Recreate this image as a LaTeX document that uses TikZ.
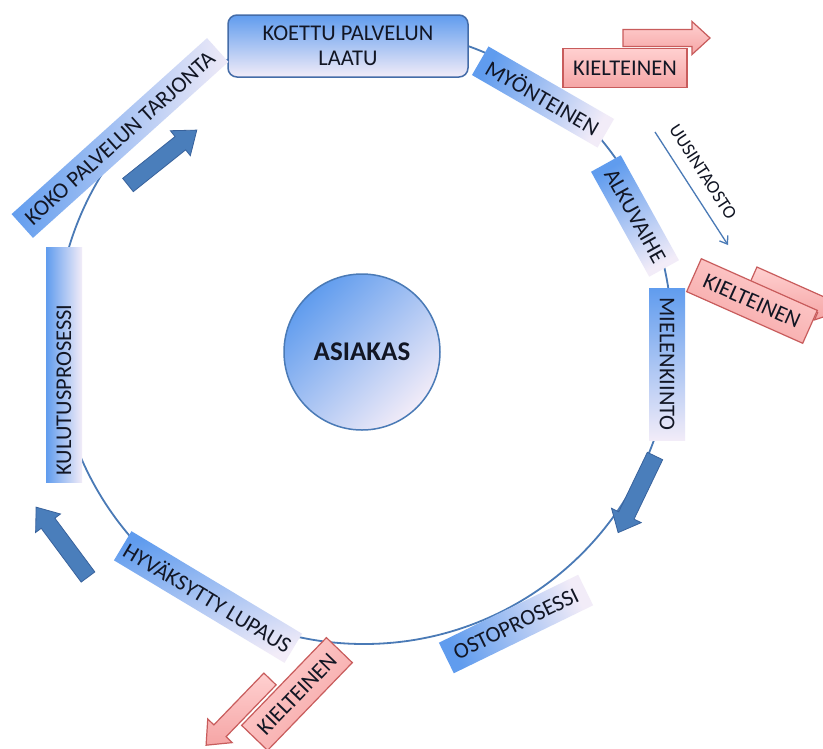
\documentclass[tikz,border=0pt]{standalone}
\usepackage{fontspec}
\setmainfont{Carlito}
\usetikzlibrary{arrows.meta}
\definecolor{ringblue}{RGB}{74,122,182}
\definecolor{boxblue}{RGB}{96,156,238}
\definecolor{boxpale}{RGB}{242,236,248}
\definecolor{koborder}{RGB}{68,108,168}
\definecolor{negtop}{RGB}{255,208,208}
\definecolor{negbot}{RGB}{245,165,165}
\definecolor{negborder}{RGB}{200,92,92}
\definecolor{arrowblue}{RGB}{74,126,187}
\definecolor{arrowborder}{RGB}{56,98,156}
\definecolor{txt}{RGB}{18,22,36}
\newcommand{\blockarrow}[7]{%
  \begin{scope}[shift={#2},rotate=#3]
    \path[#1] (0,{#5/2}) -- ({#4-#7},{#5/2}) -- ({#4-#7},{#6/2}) -- (#4,0)
      -- ({#4-#7},{-#6/2}) -- ({#4-#7},{-#5/2}) -- (0,{-#5/2}) -- cycle;
  \end{scope}}
\begin{document}
\begin{tikzpicture}[x=1pt,y=-1pt,
  ring/.style={draw=ringblue,line width=1.8pt},
  lbl/.style={shade,top color=boxblue,bottom color=boxpale,inner sep=0pt,
    text=txt,font=\fontsize{22.5}{24}\selectfont},
  koettubox/.style={rounded corners=9pt,draw=koborder,line width=1.5pt,
    top color=boxblue,bottom color=boxpale,inner sep=0pt,align=center,
    text=txt,font=\fontsize{22.5}{25}\selectfont},
  neg/.style={draw=negborder,line width=1.2pt,top color=negtop,bottom color=negbot,
    inner sep=0pt,text=txt,font=\fontsize{22.5}{24}\selectfont},
  negarrow/.style={draw=negborder,line width=1.2pt,top color=negtop,bottom color=negbot},
  bluearrow/.style={fill=arrowblue,draw=arrowborder,line width=0.8pt},
  thinarrow/.style={draw=ringblue,line width=1.3pt,-{Straight Barb[length=7pt,width=10pt]}}
]
\fill[white] (0,0) rectangle (823,748);
\clip (0,0) rectangle (823,748);

% ring
\coordinate (ringc) at (364,336);
\draw[ring] (ringc) circle[radius=308pt];

% centre
\node[circle,minimum size=156pt,draw=ringblue,line width=1.5pt,
  top color=boxblue,bottom color=boxpale,shading angle=45,text=txt,
  font=\bfseries\fontsize{27}{29}\selectfont] (asiakas) at (362,352) {ASIAKAS};

% stage boxes
\node[koettubox,minimum width=240pt,minimum height=62pt] (koettu) at (348,46)
  {KOETTU PALVELUN\\LAATU};
\node[lbl,minimum width=145pt,minimum height=33pt,rotate=-30,shading angle=60]
  (myon) at (543,97) {MYÖNTEINEN};
\node[lbl,minimum width=120pt,minimum height=34pt,rotate=-61,shading angle=29]
  (alku) at (635,216) {ALKUVAIHE};
\node[lbl,minimum width=152pt,minimum height=36pt,rotate=-90,shading angle=0]
  (miel) at (667,364) {MIELENKIINTO};
\node[lbl,minimum width=155pt,minimum height=34pt,rotate=26,shading angle=116]
  (osto) at (516,624) {OSTOPROSESSI};
\node[lbl,minimum width=199pt,minimum height=34pt,rotate=-31,shading angle=14]
  (hyva) at (208,597) {HYVÄKSYTTY LUPAUS};
\node[lbl,minimum width=235pt,minimum height=36pt,rotate=90,shading angle=90]
  (kulu) at (64,365) {\hspace{-50pt}KULUTUSPROSESSI};
\node[lbl,minimum width=263pt,minimum height=32pt,rotate=42,shading angle=87]
  (koko) at (120,138) {KOKO PALVELUN TARJONTA};

% blue flow arrows
\blockarrow{bluearrow}{(128,185)}{38.6}{88}{17}{32}{21}
\blockarrow{bluearrow}{(655,456)}{-115.7}{85}{17}{33}{19}
\blockarrow{bluearrow}{(88,577)}{126.6}{87}{17}{31}{20}

% negative exits
\blockarrow{negarrow}{(623,38)}{0}{87}{17}{33}{18}
\node[neg,minimum width=124pt,minimum height=39pt] (neg1) at (625,68) {KIELTEINEN};
\blockarrow{negarrow}{(753.5,274.8)}{-24}{92}{17}{33}{18}
\node[neg,minimum width=127pt,minimum height=36pt,rotate=-24,shading angle=-24]
  (neg2) at (752,301) {KIELTEINEN};
\blockarrow{negarrow}{(270,679)}{226}{92}{17}{34}{20}
\node[neg,minimum width=122pt,minimum height=36pt,rotate=46,shading angle=46]
  (neg3) at (297,694) {KIELTEINEN};

% repurchase
\coordinate (u1) at (655,132);
\coordinate (u2) at (728,245);
\draw[thinarrow] (u1) -- (u2);
\node[text=txt,font=\fontsize{18.5}{20}\selectfont,rotate=-57] (uusi) at (703,172) {UUSINTAOSTO};
\end{tikzpicture}
\end{document}
